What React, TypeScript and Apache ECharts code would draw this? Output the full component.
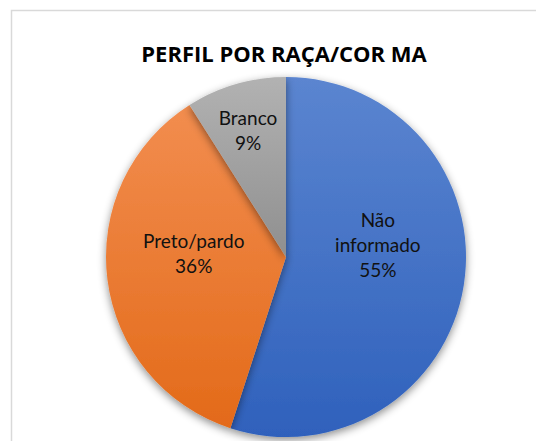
import React, { useEffect, useRef } from "react";
import * as echarts from "echarts";

const categories = ["Não informado", "Preto/pardo", "Branco"];
const values = [55, 36, 9];
const titleText = "PERFIL POR RAÇA/COR MA";

const colorPairs = [
  ["#5b85d0", "#2f61bc"],
  ["#f28d4f", "#e36a19"],
  ["#b2b2b2", "#8f8f8f"],
];
const labelOffsets = [
  [0, -27],
  [0, -16],
  [-12, -38],
];

export default function App() {
  const ref = useRef<HTMLDivElement>(null);
  useEffect(() => {
    const chart = echarts.init(ref.current!, null, { renderer: "svg" });
    const data = categories.map((name, i) => ({
      name,
      value: values[i],
      itemStyle: {
        color: new echarts.graphic.LinearGradient(0, 0, 0, 1, [
          { offset: 0, color: colorPairs[i][0] },
          { offset: 1, color: colorPairs[i][1] },
        ]),
      },
      label: { offset: labelOffsets[i] },
    }));
    chart.setOption({
      animation: false,
      backgroundColor: "#ffffff",
      title: {
        text: titleText,
        left: 279,
        top: 37,
        textAlign: "center",
        textStyle: {
          fontFamily: "Open Sans",
          fontWeight: "bold",
          fontSize: 22,
          color: "#000000",
        },
      },
      graphic: [
        {
          type: "rect",
          shape: { x: 11.5, y: 10.5, width: 600, height: 500 },
          style: { fill: "none", stroke: "#d9d9d9", lineWidth: 1.5 },
          silent: true,
        },
      ],
      series: [
        {
          type: "pie",
          center: [286, 257],
          radius: 180,
          startAngle: 90,
          clockwise: true,
          data,
          itemStyle: {
            borderWidth: 0,
            shadowColor: "rgba(0,0,0,0.45)",
            shadowBlur: 8,
            shadowOffsetY: 3,
          },
          label: {
            show: true,
            position: "inside",
            formatter: (p: any) => {
              const n = p.name === "Não informado" ? "Não\ninformado" : p.name;
              return n + "\n" + p.value + "%";
            },
            fontFamily: "Lato",
            fontSize: 19,
            lineHeight: 25,
            color: "#111111",
          },
          labelLine: { show: false },
        },
      ],
    });
    return () => chart.dispose();
  }, []);
  return (
    <div
      ref={ref}
      style={{ position: "absolute", left: 0, top: 0, width: 536, height: 441 }}
    />
  );
}
